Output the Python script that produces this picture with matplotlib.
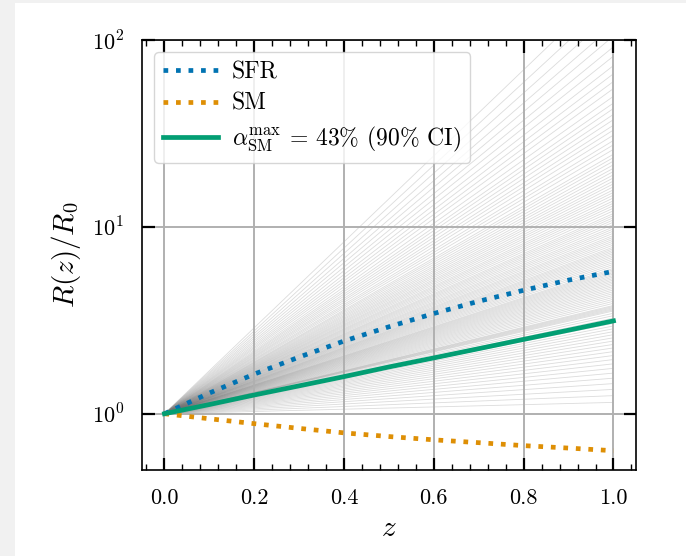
import matplotlib
matplotlib.use('Agg')
import matplotlib.pyplot as plt
from matplotlib.collections import LineCollection
from matplotlib.patches import Rectangle
from matplotlib.ticker import FixedLocator, MultipleLocator, NullLocator

plt.rcParams['mathtext.fontset'] = 'cm'
plt.rcParams['font.family'] = ['cmr10', 'DejaVu Serif']
plt.rcParams['axes.unicode_minus'] = False

# redshift grid and the three model curves
z = [0.0, 0.1, 0.2, 0.3, 0.4, 0.5, 0.6, 0.7, 0.8, 0.9, 1.0]
sfr = [1.0, 1.29, 1.63, 2.01, 2.45, 2.92, 3.44, 4.00, 4.58, 5.19, 5.78]
sm = [1.0, 0.94, 0.885, 0.835, 0.79, 0.755, 0.725, 0.70, 0.675, 0.655, 0.634]
alpha_max = [1.0, 1.12, 1.26, 1.41, 1.58, 1.78, 1.99, 2.23, 2.50, 2.80, 3.14]

# posterior draws: R(z=1)/R0 of each grey line (lines start at 1 at z=0)
draw_end = [1.15, 1.25, 1.35, 1.45, 1.55, 1.65, 1.75, 1.85, 1.95, 2.05, 2.15, 2.25,
            2.35, 2.45, 2.55, 2.65, 2.75, 2.85, 2.95, 3.05, 3.15, 3.25, 3.35, 3.45,
            3.55, 3.6, 3.65, 3.7, 3.75, 3.8, 3.9, 4.0, 4.1, 4.2, 4.3, 4.4,
            4.5, 4.6, 4.7, 4.8, 4.9, 5.0, 5.1, 5.2, 5.3, 5.4, 5.5, 5.6,
            5.7, 5.8, 5.9, 6.0, 6.15, 6.3, 6.45, 6.6, 6.75, 6.9, 7.05, 7.2,
            7.35, 7.5, 7.65, 7.8, 8.0, 8.2, 8.4, 8.6, 8.8, 9.0, 9.25, 9.5,
            9.75, 10.0, 10.3, 10.6, 10.9, 11.2, 11.5, 11.8, 12.2, 12.6, 13.0, 13.4,
            13.8, 14.3, 14.8, 15.3, 15.8, 16.4, 17.0, 17.6, 18.3, 19.0, 19.8, 20.6,
            21.5, 22.5, 23.5, 24.5, 26.0, 27.5, 29.0, 31.0, 33.0, 35.0, 37.5, 40.0,
            43.0, 46.0, 50.0, 55.0, 60.0, 66.0, 73.0, 82.0, 92.0, 105.0, 120.0, 140.0,
            165.0, 200.0]

xticks = [0.0, 0.2, 0.4, 0.6, 0.8, 1.0]
yticks = [1, 10, 100]
ytick_labels = [r'$10^{0}$', r'$10^{1}$', r'$10^{2}$']

fig = plt.figure(figsize=(6.86, 5.56), dpi=100, facecolor='#f1f1f1')
fig.patches.append(Rectangle((15 / 686, 0), 1, 1 - 3 / 556, transform=fig.transFigure,
                             facecolor='white', edgecolor='none', zorder=-1))
ax = fig.add_axes([0.207, 0.1547, 0.72, 0.7733])

segs = [[(z[0], 1.0), (z[-1], e)] for e in draw_end]
ax.add_collection(LineCollection(segs, colors='0.45', linewidths=0.6, alpha=0.25, zorder=1))

ax.plot(z, sfr, color='#0173b2', ls=':', lw=3.4, label='SFR', zorder=3)
ax.plot(z, sm, color='#de8f05', ls=':', lw=3.4, label='SM', zorder=3)
ax.plot(z, alpha_max, color='#029e73', lw=3.4,
        label=r'$\alpha_{\mathrm{SM}}^{\mathrm{max}}$ = 43% (90% CI)', zorder=4)

ax.set_yscale('log')
ax.set_xlim(-0.05, 1.05)
ax.set_ylim(0.5, 100)
ax.xaxis.set_major_locator(FixedLocator(xticks))
ax.xaxis.set_minor_locator(MultipleLocator(0.04))
ax.set_xticklabels(['%.1f' % t for t in xticks])
ax.yaxis.set_major_locator(FixedLocator(yticks))
ax.yaxis.set_minor_locator(NullLocator())
ax.set_yticklabels(ytick_labels)

ax.tick_params(which='both', direction='in', top=True, right=True, labelsize=16, pad=13)
ax.tick_params(which='major', length=9, width=1.6)
ax.tick_params(which='minor', length=4.5, width=1.0)
ax.grid(True, which='major', color='#b0b0b0', lw=1.4, zorder=0)
for s in ax.spines.values():
    s.set_linewidth(1.2)

ax.set_xlabel(r'$z$', fontsize=21, labelpad=6)
ax.set_ylabel(r'$R(z)/R_0$', fontsize=21, labelpad=6)

ax.legend(loc='upper left', fontsize=17, handlelength=2.3, handletextpad=0.6,
          framealpha=0.8, edgecolor='#cccccc', fancybox=True, borderpad=0.4,
          labelspacing=0.4)

fig.savefig('out.png', dpi=100, facecolor=fig.get_facecolor())
